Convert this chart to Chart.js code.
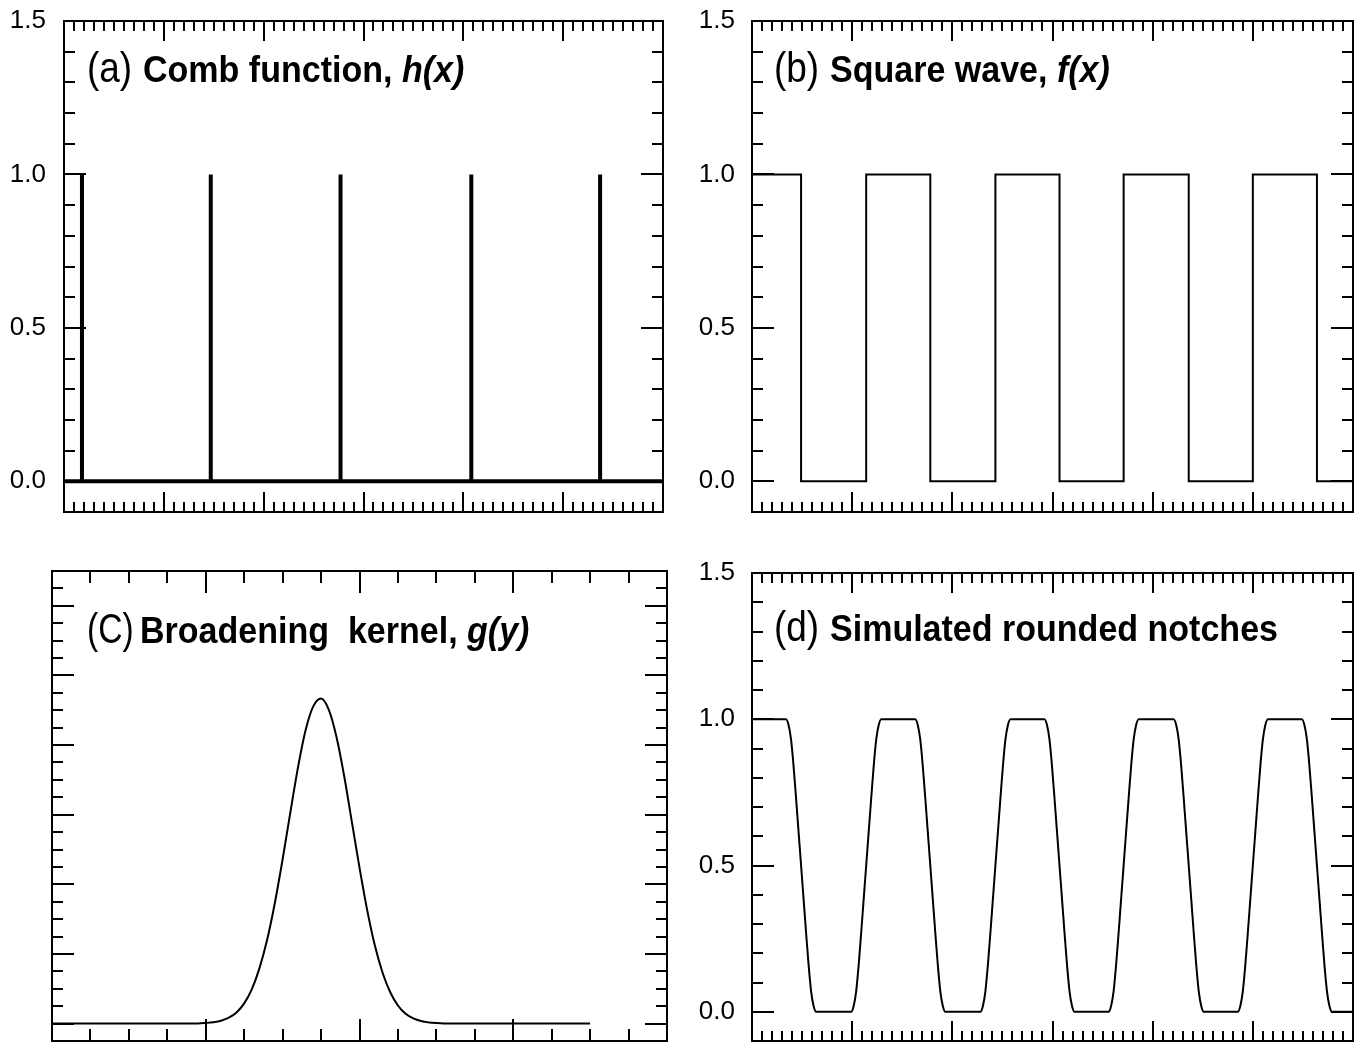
<!DOCTYPE html>
<html>
<head>
<meta charset="utf-8">
<title>Comb, square wave, kernel and rounded notches</title>
<script src="https://cdn.jsdelivr.net/npm/chart.js"></script>
<style>
    body { margin: 0; background: #fff; }
    #wrap { position: relative; width: 1360px; height: 1042px; overflow: hidden; background: #fff; }
    #wrap canvas { position: absolute; }
</style>
</head>
<body>
<div id="wrap">
    <canvas id="chartA" width="680" height="530" style="left:0px;top:0px"></canvas>
    <canvas id="chartB" width="680" height="530" style="left:680px;top:0px"></canvas>
    <canvas id="chartC" width="680" height="530" style="left:0px;top:540px"></canvas>
    <canvas id="chartD" width="680" height="530" style="left:680px;top:540px"></canvas>
</div>
<script>
/////////////////////////////////////Data/////////////////////////////////////

// (a) comb function: positions of the spikes and their height
const combX = [0.18, 1.47, 2.77, 4.08, 5.37];
const combHeight = 1.0;

// (b) square wave: x where the level changes, level held from there
const squareX = [0, 0.49, 1.14, 1.78, 2.43, 3.07, 3.71, 4.36, 5.0, 5.64, 6.0];
const squareY = [1, 0, 1, 0, 1, 0, 1, 0, 1, 0, 0];

// (c) broadening kernel
const kernelX = [0, 0.95, 1.0, 1.05, 1.1, 1.15, 1.2, 1.25, 1.3, 1.35, 1.4, 1.45, 1.5, 1.55, 1.6, 1.65, 1.7, 1.75,
                 1.8, 1.85, 1.9, 1.95, 2.0, 2.05, 2.1, 2.15, 2.2, 2.25, 2.3, 2.35, 2.4, 2.45, 2.5, 2.55, 3.5];
const kernelY = [0, 0.002, 0.009, 0.02, 0.042, 0.085, 0.16, 0.29, 0.495, 0.8, 1.21, 1.74, 2.36, 3.03, 3.68, 4.22, 4.56, 4.67,
                 4.51, 4.12, 3.56, 2.9, 2.24, 1.63, 1.12, 0.73, 0.45, 0.26, 0.14, 0.074, 0.036, 0.017, 0.007, 0.002, 0];

// (d) simulated rounded notches, one line per edge
const notchX = [0,
    0.34, 0.365, 0.39, 0.415, 0.44, 0.465, 0.49, 0.515, 0.54, 0.565, 0.59, 0.615, 0.64,
    0.99, 1.015, 1.04, 1.065, 1.09, 1.115, 1.14, 1.165, 1.19, 1.215, 1.24, 1.265, 1.29,
    1.63, 1.655, 1.68, 1.705, 1.73, 1.755, 1.78, 1.805, 1.83, 1.855, 1.88, 1.905, 1.93,
    2.28, 2.305, 2.33, 2.355, 2.38, 2.405, 2.43, 2.455, 2.48, 2.505, 2.53, 2.555, 2.58,
    2.92, 2.945, 2.97, 2.995, 3.02, 3.045, 3.07, 3.095, 3.12, 3.145, 3.17, 3.195, 3.22,
    3.56, 3.585, 3.61, 3.635, 3.66, 3.685, 3.71, 3.735, 3.76, 3.785, 3.81, 3.835, 3.86,
    4.21, 4.235, 4.26, 4.285, 4.31, 4.335, 4.36, 4.385, 4.41, 4.435, 4.46, 4.485, 4.51,
    4.85, 4.875, 4.9, 4.925, 4.95, 4.975, 5.0, 5.025, 5.05, 5.075, 5.1, 5.125, 5.15,
    5.49, 5.515, 5.54, 5.565, 5.59, 5.615, 5.64, 5.665, 5.69, 5.715, 5.74, 5.765, 5.79,
    6.0];
const notchY = [1,
    1, 0.98, 0.93, 0.84, 0.73, 0.615, 0.5, 0.385, 0.27, 0.16, 0.07, 0.02, 0,
    0, 0.02, 0.07, 0.16, 0.27, 0.385, 0.5, 0.615, 0.73, 0.84, 0.93, 0.98, 1,
    1, 0.98, 0.93, 0.84, 0.73, 0.615, 0.5, 0.385, 0.27, 0.16, 0.07, 0.02, 0,
    0, 0.02, 0.07, 0.16, 0.27, 0.385, 0.5, 0.615, 0.73, 0.84, 0.93, 0.98, 1,
    1, 0.98, 0.93, 0.84, 0.73, 0.615, 0.5, 0.385, 0.27, 0.16, 0.07, 0.02, 0,
    0, 0.02, 0.07, 0.16, 0.27, 0.385, 0.5, 0.615, 0.73, 0.84, 0.93, 0.98, 1,
    1, 0.98, 0.93, 0.84, 0.73, 0.615, 0.5, 0.385, 0.27, 0.16, 0.07, 0.02, 0,
    0, 0.02, 0.07, 0.16, 0.27, 0.385, 0.5, 0.615, 0.73, 0.84, 0.93, 0.98, 1,
    1, 0.98, 0.93, 0.84, 0.73, 0.615, 0.5, 0.385, 0.27, 0.16, 0.07, 0.02, 0,
    0];

// Tick labels on the y axis of (a), (b), (d)
const yTickValues = [0, 0.5, 1.0, 1.5];
const yTickLabels = ['0.0', '0.5', '1.0', '1.5'];

const FONT = '"Liberation Sans", Arial, Helvetica, sans-serif';

/////////////////////////////////////Plugins/////////////////////////////////////

// Frame round the plot with inward ticks on all four sides
const frameTicks = {
    id: 'frameTicks',
    afterDatasetsDraw(chart, args, opts) {
        const { ctx, chartArea: a, scales: { x, y } } = chart;
        ctx.save();
        ctx.strokeStyle = '#000';
        ctx.lineWidth = 2;
        ctx.lineCap = 'butt';

        // ticks along top and bottom
        let i0 = Math.ceil(x.min / opts.xMinor - 1e-6), i1 = Math.floor(x.max / opts.xMinor + 1e-6);
        for (let i = i0; i <= i1; i++) {
            const v = i * opts.xMinor;
            const major = Math.abs(v / opts.xMajor - Math.round(v / opts.xMajor)) < 1e-6;
            const len = major ? opts.xLen[1] : opts.xLen[0];
            const px = Math.round(x.getPixelForValue(v));
            ctx.beginPath();
            ctx.moveTo(px, a.bottom); ctx.lineTo(px, a.bottom - len);
            ctx.moveTo(px, a.top); ctx.lineTo(px, a.top + len);
            ctx.stroke();
        }

        // ticks along left and right
        i0 = Math.ceil(y.min / opts.yMinor - 1e-6); i1 = Math.floor(y.max / opts.yMinor + 1e-6);
        for (let i = i0; i <= i1; i++) {
            const v = i * opts.yMinor;
            const major = Math.abs(v / opts.yMajor - Math.round(v / opts.yMajor)) < 1e-6;
            const len = major ? opts.yLen[1] : opts.yLen[0];
            const py = Math.round(y.getPixelForValue(v));
            ctx.beginPath();
            ctx.moveTo(a.left, py); ctx.lineTo(a.left + len, py);
            ctx.moveTo(a.right, py); ctx.lineTo(a.right - len, py);
            ctx.stroke();
        }

        ctx.strokeRect(a.left, a.top, a.right - a.left, a.bottom - a.top);
        ctx.restore();
    }
};

// Panel label: "(a)" in plain type followed by bold / bold italic words.
// sx squeezes a part sideways, the figure uses a condensed face.
const panelTitle = {
    id: 'panelTitle',
    afterDraw(chart, args, opts) {
        const ctx = chart.ctx;
        ctx.save();
        ctx.fillStyle = '#000';
        ctx.textBaseline = 'alphabetic';
        ctx.textAlign = 'left';
        let xPos = opts.x;
        opts.parts.forEach(p => {
            if (p.x !== undefined) xPos = p.x;
            const sx = p.sx || 1;
            ctx.font = p.font;
            ctx.save();
            ctx.translate(xPos, opts.y);
            ctx.scale(sx, 1);
            ctx.fillText(p.text, 0, 0);
            ctx.restore();
            xPos += ctx.measureText(p.text).width * sx;
        });
        ctx.restore();
    }
};

Chart.register(frameTicks, panelTitle);

/////////////////////////////////////Charts/////////////////////////////////////

function zip(xs, ys) {
    return xs.map((x, i) => ({ x: x, y: ys[i] }));
}

function lineSet(data, width, extra) {
    return Object.assign({
        data: data,
        showLine: true,
        borderColor: '#000',
        borderWidth: width,
        pointRadius: 0,
        fill: false
    }, extra || {});
}

// Options shared by the four panels
function panelOptions(p) {
    return {
        responsive: false,
        animation: false,
        devicePixelRatio: 1,
        layout: { padding: p.padding },
        plugins: {
            legend: { display: false },
            tooltip: { enabled: false },
            frameTicks: p.ticks,
            panelTitle: p.title
        },
        scales: {
            x: { type: 'linear', min: p.xMin, max: p.xMax, display: false },
            y: {
                type: 'linear',
                min: p.yMin,
                max: p.yMax,
                display: true,
                grid: { display: false, drawTicks: false },
                border: { display: false },
                ticks: {
                    display: p.yLabels,
                    autoSkip: false,
                    padding: p.labelPad,
                    color: '#000',
                    font: { family: FONT, size: 26 },
                    callback: (value) => {
                        const idx = yTickValues.findIndex(v => Math.abs(v - value) < 1e-6);
                        return idx >= 0 ? yTickLabels[idx] : '';
                    }
                },
                afterBuildTicks: (scale) => {
                    scale.ticks = p.yLabels ? yTickValues.map(v => ({ value: v })) : [];
                },
                afterFit: (scale) => {
                    // fixed axis width, and no extra room for half labels
                    scale.width = p.axisWidth;
                    scale.paddingTop = 0;
                    scale.paddingBottom = 0;
                }
            }
        }
    };
}

const fullTicks = { xMinor: 0.1, xMajor: 1, yMinor: 0.1, yMajor: 0.5, xLen: [10, 20], yLen: [11, 22] };
const TAG = '42px ' + FONT;
const BOLD = 'bold 36px ' + FONT;
const BOLD_IT = 'italic bold 36px ' + FONT;
const SQ = 0.945;

// (a) Comb function
const spikes = combX.flatMap(x => [{ x: x, y: 0 }, { x: x, y: combHeight }, { x: x, y: null }]);
new Chart(document.getElementById('chartA'), {
    type: 'scatter',
    data: {
        datasets: [
            lineSet([{ x: 0, y: 0 }, { x: 6, y: 0 }], 4),
            lineSet(spikes, 4, { spanGaps: false })
        ]
    },
    options: panelOptions({
        padding: { top: 21, right: 17, bottom: 18, left: 0 },
        axisWidth: 64, labelPad: 18, yLabels: true,
        xMin: 0, xMax: 6, yMin: -0.1, yMax: 1.5,
        ticks: fullTicks,
        title: { x: 87, y: 82, parts: [
            { text: '(a)', font: TAG, sx: 0.88 },
            { text: 'Comb function, ', font: BOLD, sx: SQ, x: 143 },
            { text: 'h(x)', font: BOLD_IT, sx: SQ }
        ] }
    })
});

// (b) Square wave
new Chart(document.getElementById('chartB'), {
    type: 'scatter',
    data: { datasets: [lineSet(zip(squareX, squareY), 2, { stepped: true })] },
    options: panelOptions({
        padding: { top: 21, right: 7, bottom: 18, left: 0 },
        axisWidth: 72, labelPad: 17, yLabels: true,
        xMin: 0, xMax: 6, yMin: -0.1, yMax: 1.5,
        ticks: fullTicks,
        title: { x: 94, y: 82, parts: [
            { text: '(b)', font: TAG, sx: 0.88 },
            { text: 'Square wave, ', font: BOLD, sx: SQ, x: 150 },
            { text: 'f(x)', font: BOLD_IT, sx: SQ }
        ] }
    })
});

// (c) Broadening kernel
new Chart(document.getElementById('chartC'), {
    type: 'scatter',
    data: { datasets: [lineSet(zip(kernelX, kernelY), 2, { cubicInterpolationMode: 'monotone' })] },
    options: panelOptions({
        padding: { top: 31, right: 13, bottom: 29, left: 0 },
        axisWidth: 52, labelPad: 0, yLabels: false,
        xMin: 0, xMax: 4, yMin: -0.25, yMax: 6.5,
        ticks: { xMinor: 0.25, xMajor: 1, yMinor: 0.25, yMajor: 1, xLen: [12, 22], yLen: [11, 22] },
        title: { x: 87, y: 103, parts: [
            { text: '(C)', font: TAG, sx: 0.8 },
            { text: 'Broadening  kernel, ', font: BOLD, sx: SQ, x: 140 },
            { text: 'g(y)', font: BOLD_IT, sx: SQ }
        ] }
    })
});

// (d) Simulated rounded notches
new Chart(document.getElementById('chartD'), {
    type: 'scatter',
    data: { datasets: [lineSet(zip(notchX, notchY), 2, { cubicInterpolationMode: 'monotone' })] },
    options: panelOptions({
        padding: { top: 33, right: 7, bottom: 29, left: 0 },
        axisWidth: 72, labelPad: 17, yLabels: true,
        xMin: 0, xMax: 6, yMin: -0.1, yMax: 1.5,
        ticks: fullTicks,
        title: { x: 94, y: 101, parts: [
            { text: '(d)', font: TAG, sx: 0.88 },
            { text: 'Simulated rounded notches', font: BOLD, sx: SQ, x: 150 }
        ] }
    })
});
</script>
</body>
</html>
